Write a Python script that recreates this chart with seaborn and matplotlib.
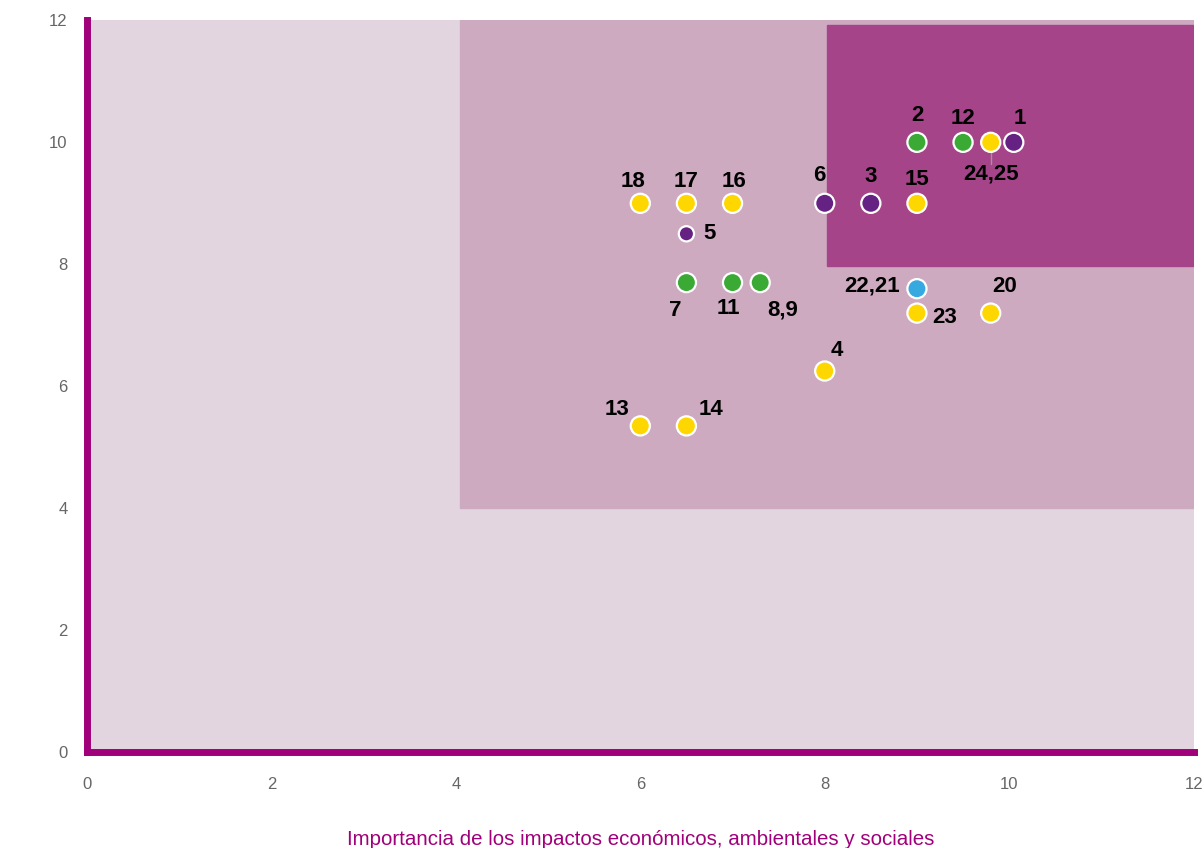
import numpy as np
import pandas as pd
import seaborn as sns
import matplotlib.pyplot as plt
from matplotlib.patches import Rectangle

# materiality points
labels = ["2", "12", "24,25", "1", "18", "17", "16", "6", "3", "15", "5",
          "7", "11", "8,9", "22,21", "23", "20", "4", "13", "14"]
impacto = [9.0, 9.5, 9.8, 10.05, 6.0, 6.5, 7.0, 8.0, 8.5, 9.0, 6.5,
           6.5, 7.0, 7.3, 9.0, 9.0, 9.8, 8.0, 6.0, 6.5]
grupos = [10.0, 10.0, 10.0, 10.0, 9.0, 9.0, 9.0, 9.0, 9.0, 9.0, 8.5,
          7.7, 7.7, 7.7, 7.6, 7.2, 7.2, 6.25, 5.35, 5.35]
tipo = ["social", "social", "gob", "eco", "gob", "gob", "gob", "eco", "eco", "gob", "eco",
        "social", "social", "social", "amb", "gob", "gob", "gob", "gob", "gob"]

palette = {"social": "#3aaa35", "gob": "#ffd700", "eco": "#662283", "amb": "#36a9e1"}

# label offsets in points (dx, dy, ha)
offsets = [(0, 19, "center"), (0, 17, "center"), (0, -23, "center"), (4, 17, "center"),
           (-5, 16, "center"), (0, 16, "center"), (1, 16, "center"), (-4, 20, "center"),
           (0, 19, "center"), (0, 17, "center"), (12, 0, "left"),
           (-8, -20, "center"), (-3, -19, "center"), (16, -20, "center"),
           (-12, 2, "right"), (11, -3, "left"), (10, 19, "center"), (9, 15, "center"),
           (-17, 12, "center"), (18, 12, "center")]

df = pd.DataFrame({"x": impacto, "y": grupos, "tipo": tipo, "label": labels})
df["size"] = np.where(df["label"] == "5", "small", "big")

sns.set_style("white")
plt.rcParams["font.family"] = ["Liberation Sans", "DejaVu Sans"]

fig = plt.figure(figsize=(12.02, 8.48), dpi=100)
ax = fig.add_axes([0.0724, 0.113, 0.9206, 0.863])

ax.set_facecolor("#e2d5e0")
ax.add_patch(Rectangle((4.05, 4.0), 7.95, 8.0, color="#cdaac0", zorder=0))
ax.add_patch(Rectangle((8.03, 7.97), 3.97, 3.96, color="#a54488", zorder=0))

sns.scatterplot(data=df, x="x", y="y", hue="tipo", palette=palette,
                size="size", sizes={"big": 190, "small": 120},
                edgecolor="white", linewidth=1.6, legend=False, zorder=3, ax=ax)

for lab, xx, yy, (dx, dy, ha) in zip(labels, impacto, grupos, offsets):
    ax.annotate(lab, (xx, yy), xytext=(dx, dy), textcoords="offset points",
                ha=ha, va="center", fontsize=16, fontweight="bold", color="black", zorder=4)

# leader line for 24,25
ax.plot([9.8, 9.8], [10.0, 9.65], color="#999999", lw=1, zorder=2)

ax.set_xlim(0, 12)
ax.set_ylim(0, 12)
ax.set_xticks(range(0, 13, 2))
ax.set_yticks(range(0, 13, 2))
ax.tick_params(axis="both", colors="#666666", labelsize=12, length=0)
ax.tick_params(axis="x", pad=18)
ax.tick_params(axis="y", pad=14)

for s in ["top", "right"]:
    ax.spines[s].set_visible(False)
for s in ["left", "bottom"]:
    ax.spines[s].set_color("#a0007a")
    ax.spines[s].set_linewidth(5)

ax.set_xlabel("Importancia de los impactos económicos, ambientales y sociales",
              color="#a0007a", fontsize=14.8, labelpad=27)
ax.set_ylabel("")

plt.savefig("out.png", dpi=100)
